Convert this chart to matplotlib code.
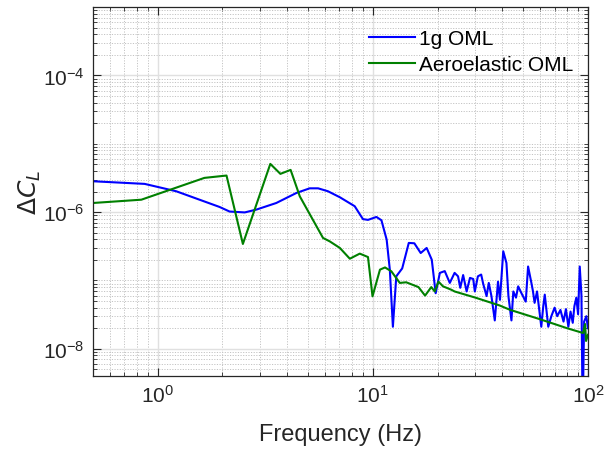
import matplotlib
matplotlib.use("Agg")
import matplotlib.pyplot as plt
import matplotlib.ticker as mticker
import numpy as np

plt.rcParams['font.family'] = ['Liberation Sans', 'DejaVu Sans']
plt.rcParams['mathtext.fontset'] = 'dejavusans'
plt.rcParams['axes.unicode_minus'] = False

# 1g OML response
freq_1g = [0.5, 0.87, 1.22, 1.94, 2.16, 2.54, 2.88, 3.56, 4.42, 5.09, 5.57, 6.19,
           7.03, 8.24, 9.0, 9.5, 10.4, 10.97, 11.6, 12.0, 12.4, 12.86, 13.7, 14.7,
           15.6, 16.7, 17.8, 18.8, 19.6, 20.5, 21.6, 22.8, 24.0, 24.9, 25.5, 26.3,
           27.3, 28.3, 29.3, 29.8, 30.8, 31.9, 32.6, 33.8, 34.6, 35.6, 36.9, 38.2,
           39.0, 40.4, 41.8, 42.7, 44.1, 45.0, 46.3, 47.4, 49.1, 51.4, 52.7, 54.6,
           55.5, 56.5, 58.0, 60.7, 62.0, 63.0, 65.4, 67.6, 70.0, 72.0, 74.5, 77.0,
           79.0, 81.1, 83.0, 85.0, 86.5, 88.3, 90.0, 91.6, 93.3, 94.5, 96.0, 98.3, 100.0]
cl_1g = [2.83e-6, 2.59e-6, 2.02e-6, 1.19e-6, 1.02e-6, 9.9e-7, 1.09e-6, 1.36e-6,
         1.91e-6, 2.23e-6, 2.23e-6, 2.02e-6, 1.65e-6, 1.22e-6, 7.9e-7, 7.7e-7,
         8.5e-7, 7.6e-7, 3.96e-7, 1.44e-7, 2.1e-8, 1.15e-7, 1.5e-7, 3.54e-7,
         3.5e-7, 2.52e-7, 2.99e-7, 2.01e-7, 6.5e-8, 1.29e-7, 1.37e-7, 9.2e-8,
         1.29e-7, 1.15e-7, 7.8e-8, 1.2e-7, 6.9e-8, 1.09e-7, 1.05e-7, 6.9e-8,
         1.15e-7, 1.22e-7, 8.9e-8, 5.9e-8, 9.2e-8, 5.9e-8, 2.6e-8, 9.6e-8,
         5.2e-8, 2.67e-7, 1.8e-7, 5.9e-8, 2.6e-8, 6.9e-8, 5.6e-8, 8.2e-8,
         6.5e-8, 4.9e-8, 1.6e-7, 9.2e-8, 7.0e-8, 4.7e-8, 6.9e-8, 2.1e-8,
         4.2e-8, 6.2e-8, 2.1e-8, 3.0e-8, 4.0e-8, 3.0e-8, 3.7e-8, 2.5e-8,
         3.8e-8, 2.1e-8, 3.5e-8, 2.4e-8, 4.2e-8, 5.6e-8, 3.2e-8, 1.6e-7,
         6.0e-8, 1.0e-9, 2.5e-8, 3.0e-8, 2.0e-8]

# Aeroelastic OML response
freq_ae = [0.5, 0.84, 1.65, 2.09, 2.49, 3.34, 3.72, 4.15, 4.58, 5.87, 6.31, 7.03,
           7.82, 8.7, 9.5, 9.97, 10.8, 11.4, 12.2, 13.35, 14.3, 16.3, 17.5, 18.7,
           19.4, 20.2, 21.2, 23.2, 24.0, 30.0, 38.9, 43.4, 60.0, 80.0, 95.0, 97.0,
           98.0, 100.0]
cl_ae = [1.36e-6, 1.52e-6, 3.17e-6, 3.43e-6, 3.42e-7, 5.08e-6, 3.63e-6, 4.15e-6,
         1.7e-6, 4.19e-7, 3.73e-7, 2.99e-7, 2.08e-7, 2.47e-7, 2.2e-7, 5.85e-8,
         1.44e-7, 1.55e-7, 1.36e-7, 9.2e-8, 9.4e-8, 8.0e-8, 6.0e-8, 8.0e-8,
         6.9e-8, 9.6e-8, 8.2e-8, 7.3e-8, 6.9e-8, 5.6e-8, 4.3e-8, 3.72e-8,
         2.7e-8, 2.0e-8, 1.7e-8, 2.3e-8, 1.3e-8, 1.6e-8]

fig = plt.figure(figsize=(6.15, 4.52), dpi=100)
ax = fig.add_axes([0.151, 0.166, 0.805, 0.816])

ax.loglog(freq_1g, cl_1g, color=(0, 0, 1), lw=1.5, label='1g OML')
ax.loglog(freq_ae, cl_ae, color=(0, 0.5, 0), lw=1.5, label='Aeroelastic OML')

ax.set_xlim(0.5, 100)
ax.set_ylim(4e-9, 1e-3)
ax.yaxis.set_major_locator(mticker.FixedLocator([1e-8, 1e-6, 1e-4]))
ax.yaxis.set_minor_locator(mticker.LogLocator(base=10, subs=np.arange(1, 10), numticks=30))
ax.yaxis.set_minor_formatter(mticker.NullFormatter())
ax.xaxis.set_minor_locator(mticker.LogLocator(base=10, subs=np.arange(2, 10), numticks=30))
ax.xaxis.set_minor_formatter(mticker.NullFormatter())

ax.grid(True, which='major', color='#e0e0e0', lw=1.0, ls='-')
ax.grid(True, which='minor', color='#c4c4c4', lw=0.7, ls=(0, (1.2, 1.5)))
ax.set_axisbelow(True)

dark = '#262626'
for s in ax.spines.values():
    s.set_color(dark)
    s.set_linewidth(0.9)
ax.tick_params(which='both', direction='in', top=True, right=True, colors=dark,
               labelsize=15)
ax.tick_params(which='major', length=6, pad=6)
ax.tick_params(which='minor', length=3)

ax.set_xlabel('Frequency (Hz)', fontsize=17, color=dark, labelpad=12)
ax.set_ylabel(r'$\Delta C_L$', fontsize=18, color=dark, labelpad=0)

leg = ax.legend(loc='upper right', bbox_to_anchor=(1.0, 0.98), frameon=False,
                fontsize=15, handlelength=2.2, handletextpad=0.2,
                borderaxespad=0.3, labelspacing=0.35)

fig.savefig('out.png', dpi=100)
